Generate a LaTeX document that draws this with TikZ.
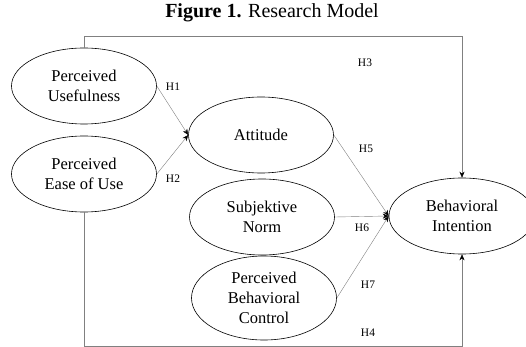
\documentclass[tikz,border=0pt]{standalone}
\usepackage{fontspec}
\setmainfont{Liberation Serif}
\usetikzlibrary{shapes.geometric,arrows.meta}

\begin{document}
\begin{tikzpicture}[x=1pt,y=-1pt,
    construct/.style={draw, ellipse, line width=0.6pt, inner sep=0pt, minimum width=145pt,
      minimum height=76pt, align=center, font=\fontsize{16.5}{20}\selectfont},
    path/.style={draw=gray, thin, -{Stealth[length=6pt,width=5pt,black]}},
    hyp/.style={font=\fontsize{11.5}{13}\selectfont}]
  \useasboundingbox (0,0) rectangle (526,347);

  % Title
  \node (title) at (272,13) {\fontsize{20}{24}\selectfont\textbf{Figure 1.} Research Model};

  % Constructs
  \node[construct] (pu) at (84,86) {Perceived\\Usefulness};
  \node[construct] (peou) at (84,174) {Perceived\\Ease of Use};
  \node[construct] (att) at (261,135) {Attitude};
  \node[construct] (sn) at (262,217) {Subjektive\\Norm};
  \node[construct, minimum height=84pt] (pbc) at (264,298) {Perceived\\Behavioral\\Control};
  \node[construct, minimum width=146pt] (bi) at (462,216) {Behavioral\\Intention};

  % Paths
  \draw[path] (pu.east) -- (att.west);
  \draw[path] (peou.east) -- (att.west);
  \draw[path] (att.east) -- (bi.west);
  \draw[path] (sn.east) -- (bi.west);
  \draw[path] (pbc.east) -- (bi.west);
  \draw[path] (pu.north) -- ++(0,-11) -| (bi.north);
  \draw[path] (peou.south) |- (462,346) -- (bi.south);

  % Hypotheses
  \node[hyp] (h1) at (173,87) {H1};
  \node[hyp] (h2) at (173,179) {H2};
  \node[hyp] (h3) at (365,63) {H3};
  \node[hyp] (h4) at (368,333) {H4};
  \node[hyp] (h5) at (366,149) {H5};
  \node[hyp] (h6) at (362,228) {H6};
  \node[hyp] (h7) at (368,285) {H7};
\end{tikzpicture}
\end{document}
